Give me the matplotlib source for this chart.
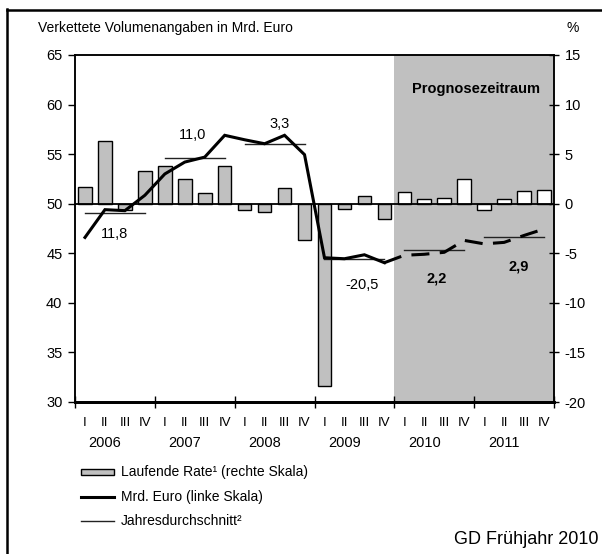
import matplotlib
matplotlib.use("Agg")
import matplotlib.pyplot as plt
from matplotlib.patches import Rectangle
from matplotlib.lines import Line2D
import numpy as np

plt.rcParams['font.family'] = ['Liberation Sans', 'DejaVu Sans']
plt.rcParams['axes.unicode_minus'] = False

years = ['2006', '2007', '2008', '2009', '2010', '2011']
quarters = ['I', 'II', 'III', 'IV']
# Laufende Rate (rechte Skala, %)
rate = [1.67, 6.3, -0.6, 3.25, 3.8, 2.5, 1.04, 3.8, -0.67, -0.84, 1.55, -3.7,
        -18.4, -0.55, 0.77, -1.5, 1.17, 0.43, 0.6, 2.45, -0.68, 0.43, 1.27, 1.4]
# Mrd. Euro (linke Skala)
level = [46.6, 49.4, 49.3, 50.85, 53.0, 54.2, 54.7, 56.9, 56.45, 56.05, 56.9, 54.95,
         44.55, 44.45, 44.85, 44.05, 44.8, 44.9, 45.1, 46.3, 45.95, 46.1, 46.8, 47.45]
# Jahresdurchschnitt (Mrd. Euro)
annual_avg = [49.05, 54.6, 56.05, 44.45, 45.3, 46.65]
annual_labels = ['11,8', '11,0', '3,3', '-20,5', '2,2', '2,9']
forecast_start = 16  # first forecast quarter (2010 Q1)

W, H = 602, 554
fig = plt.figure(figsize=(W / 100, H / 100), dpi=100)
ax_l, ax_r, ax_t, ax_b = 75, 554, 55, 402
ax = fig.add_axes([ax_l / W, 1 - ax_b / H, (ax_r - ax_l) / W, (ax_b - ax_t) / H])
ax2 = ax.twinx()
ax.set_zorder(ax2.get_zorder() + 1)
ax.patch.set_visible(False)

n = len(rate)
x = np.arange(n) + 0.5
gray = '#c0c0c0'

# forecast shading
ax2.axvspan(forecast_start, n, color=gray, lw=0, zorder=0)

# bars
cols = [gray if i < forecast_start else 'white' for i in range(n)]
ax2.bar(x, rate, width=0.68, color=cols, edgecolor='black', linewidth=1.0, zorder=2)
ax2.axhline(0, color='black', lw=1.3, zorder=3)

# level line
ax.plot(x[:forecast_start], level[:forecast_start], color='black', lw=2.2,
        solid_joinstyle='miter', zorder=5)
ax.plot(x[forecast_start - 1:], level[forecast_start - 1:], color='black', lw=2.2,
        dashes=(5.9, 3.4), zorder=5)

# annual averages
for k, v in enumerate(annual_avg):
    ax.plot([4 * k + 0.5, 4 * k + 3.5], [v, v], color='#222222', lw=1.0, zorder=4)

# annual labels
lab_pos = [(2.0, 46.9), (5.9, 56.95), (10.26, 58.06), (14.36, 41.76), (18.14, 42.44), (22.24, 43.68)]
for k, (lab, (lx, ly)) in enumerate(zip(annual_labels, lab_pos)):
    ax.text(lx, ly, lab, ha='center', va='center', fontsize=10.5,
            fontweight='bold' if k >= 4 else 'normal', zorder=6)

ax.set_xlim(0, n)
ax.set_ylim(30, 65)
ax2.set_ylim(-20, 15)
ax.set_yticks(np.arange(30, 66, 5))
ax2.set_yticks(np.arange(-20, 16, 5))
ax.set_xticks(np.arange(0, n + 1, 4))
ax.set_xticklabels([])
ax.tick_params(axis='x', direction='inout', length=9, width=1.0)
ax.tick_params(axis='y', direction='out', length=5, width=1.0, labelsize=10.5, pad=4)
ax2.tick_params(axis='y', direction='inout', length=7, width=1.0, labelsize=10.5, pad=4)
for a in (ax, ax2):
    for s in ('left', 'right', 'top'):
        a.spines[s].set_linewidth(1.1)
    a.spines['bottom'].set_linewidth(2.0)

# quarter and year labels
trans = ax.get_xaxis_transform()
for i in range(n):
    ax.text(x[i], -0.0605, quarters[i % 4], ha='center', va='center',
            fontsize=9.5, transform=trans)
for k, y in enumerate(years):
    ax.text(4 * k + 1.5, -0.117, y, ha='center', va='center', fontsize=10.5,
            transform=trans)

def fx(px):
    return px / W

def fy(py):
    return 1 - py / H

fig.text(fx(38), fy(28.3), 'Verkettete Volumenangaben in Mrd. Euro', ha='left',
         va='center', fontsize=10)
fig.text(fx(572.7), fy(28.3), '%', ha='center', va='center', fontsize=10)
fig.text(fx(475.8), fy(89.3), 'Prognosezeitraum', ha='center', va='center',
         fontsize=10.5, fontweight='bold')

# legend (drawn manually)
fig.add_artist(Rectangle((fx(81), fy(474.5)), fx(114.3) - fx(81), fy(469) - fy(474.5),
                         transform=fig.transFigure, facecolor=gray, edgecolor='black', lw=1.0))
fig.add_artist(Line2D([fx(81), fx(114.3)], [fy(496.7), fy(496.7)], transform=fig.transFigure,
                      color='black', lw=2.2))
fig.add_artist(Line2D([fx(81), fx(114.3)], [fy(520.7), fy(520.7)], transform=fig.transFigure,
                      color='#222222', lw=1.0))
leg_texts = ['Laufende Rate¹ (rechte Skala)', 'Mrd. Euro (linke Skala)', 'Jahresdurchschnitt²']
for t, py in zip(leg_texts, [471.7, 496.7, 520.7]):
    fig.text(fx(120.7), fy(py), t, ha='left', va='center', fontsize=10)

fig.text(fx(599), fy(540), 'GD Frühjahr 2010', ha='right', va='center', fontsize=13)

# outer frame (top and left)
fig.add_artist(Line2D([fx(7), 1], [fy(9.5), fy(9.5)], transform=fig.transFigure, color='black', lw=1.8))
fig.add_artist(Line2D([fx(7.2), fx(7.2)], [fy(8.5), 0], transform=fig.transFigure, color='black', lw=1.8))

fig.savefig('out.png', dpi=100)
